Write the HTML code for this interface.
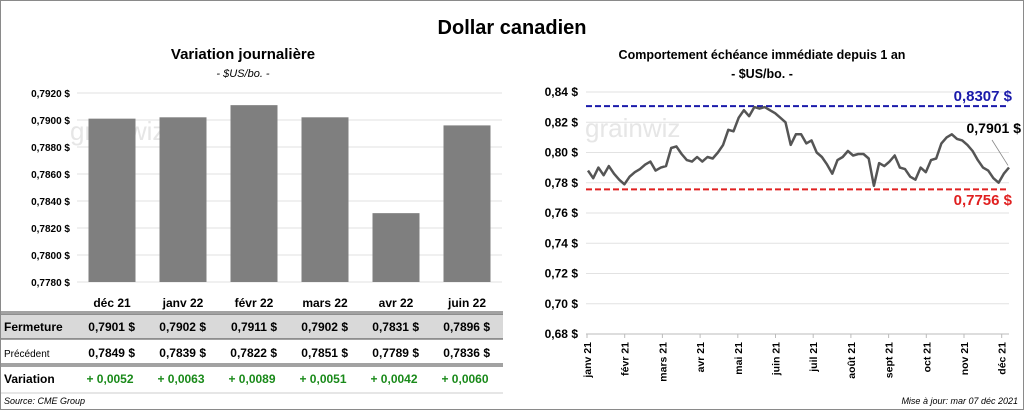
<!DOCTYPE html>
<html><head><meta charset="utf-8"><style>
body{margin:0;background:#fff;font-family:"Liberation Sans",sans-serif;}
#wrap{position:relative;width:1024px;height:410px;overflow:hidden;}
svg text{font-family:"Liberation Sans",sans-serif;}
</style></head><body>
<div id="wrap">
<svg id="s" width="1024" height="410">
<rect x="0.5" y="0.5" width="1023" height="409" fill="none" stroke="#8a8a8a"/>
<text x="512" y="34" text-anchor="middle" font-size="20" font-weight="bold">Dollar canadien</text>
<text x="243" y="59" text-anchor="middle" font-size="15" font-weight="bold">Variation  journalière</text>
<text x="243" y="77" text-anchor="middle" font-size="11" font-style="italic">- $US/bo. -</text>
<text x="762" y="59" text-anchor="middle" font-size="12.5" font-weight="bold">Comportement échéance immédiate depuis 1 an</text>
<text x="762" y="78" text-anchor="middle" font-size="12.5" font-weight="bold">- $US/bo. -</text>
<text x="70" y="140" font-size="26" fill="#e6e6e6">grainwiz</text>
<text x="585" y="137" font-size="26" fill="#e6e6e6">grainwiz</text>
<g id="left"></g><g id="right"></g>
<text x="4" y="404" font-size="9" font-style="italic">Source: CME Group</text>
<text x="1018" y="404" text-anchor="end" font-size="9" font-style="italic">Mise à jour: mar 07 déc 2021</text>
</svg>
</div>
<script>
const NS="http://www.w3.org/2000/svg";
const months=["déc 21","janv 22","févr 22","mars 22","avr 22","juin 22"];
const closes=[0.7901,0.7902,0.7911,0.7902,0.7831,0.7896];
const prevs=[0.7849,0.7839,0.7822,0.7851,0.7789,0.7836];
const leftTicks=[0.7780,0.7800,0.7820,0.7840,0.7860,0.7880,0.7900,0.7920];
const rightTicks=[0.68,0.70,0.72,0.74,0.76,0.78,0.80,0.82,0.84];
const dateLabels=["janv 21","févr 21","mars 21","avr 21","mai 21","juin 21","juil 21","août 21","sept 21","oct 21","nov 21","déc 21"];
const series=[0.788,0.783,0.790,0.785,0.791,0.786,0.782,0.779,0.784,0.787,0.789,0.792,0.794,0.788,0.790,0.791,0.803,0.804,0.799,0.795,0.794,0.797,0.794,0.797,0.796,0.800,0.805,0.815,0.814,0.823,0.828,0.824,0.830,0.829,0.830,0.828,0.826,0.823,0.820,0.805,0.812,0.812,0.806,0.808,0.800,0.797,0.792,0.786,0.795,0.797,0.801,0.798,0.799,0.799,0.796,0.778,0.793,0.791,0.794,0.798,0.790,0.789,0.784,0.782,0.790,0.787,0.795,0.796,0.806,0.810,0.812,0.809,0.808,0.805,0.801,0.795,0.790,0.788,0.783,0.780,0.786,0.7901];
const highVal=0.8307, lowVal=0.7756, lastVal=0.7901;

function el(t,a,p,txt){const e=document.createElementNS(NS,t);for(const k in a)e.setAttribute(k,a[k]);if(txt!==undefined)e.textContent=txt;p.appendChild(e);return e;}
const fmt4=v=>v.toFixed(4).replace('.',',');
const L=document.getElementById('left'), R=document.getElementById('right');
const ly=v=>93+(0.7920-v)/0.0020*27;
const lx=i=>112+i*71;
leftTicks.forEach(t=>{
 const g=el('line',{x1:77,x2:502,y1:ly(t),y2:ly(t),stroke:'#e2e2e2'},L);
 
 const tx=el('text',{x:70,y:ly(t)+4,'text-anchor':'end','font-size':10,'font-weight':'bold'},L,fmt4(t)+' $');
 
});
closes.forEach((v,i)=>{
 const b=el('rect',{x:lx(i)-23.5,y:ly(v),width:47,height:ly(0.7780)-ly(v),fill:'#7f7f7f'},L);
 
 const m=el('text',{x:lx(i),y:307,'text-anchor':'middle','font-size':12,'font-weight':'bold'},L,months[i]);
 
 const c=el('text',{x:lx(i)+23,y:331,'text-anchor':'end','font-size':12,'font-weight':'bold'},L,fmt4(v)+'  $');
 
 const p=el('text',{x:lx(i)+23,y:357,'text-anchor':'end','font-size':12,'font-weight':'bold'},L,fmt4(prevs[i])+'  $');
 
 const d=el('text',{x:lx(i)-2,y:383,'text-anchor':'middle','font-size':12,'font-weight':'bold',fill:'#1a8a1a'},L,'+ '+fmt4(v-prevs[i]));
 
});
const rowbg=el('rect',{x:1,y:314,width:502,height:25,fill:'#d9d9d9'},L);L.insertBefore(rowbg,L.firstChild);

[[312,'#444'],[314,'#444'],[339,'#444'],[364,'#444'],[366,'#444'],[393,'#ccc']].forEach(a=>{
 const l=el('line',{x1:1,x2:503,y1:a[0],y2:a[0],stroke:a[1],'stroke-width':1},L);
 
});
[['Fermeture',331,12,'bold'],['Précédent',357,10,'normal'],['Variation',383,12,'bold']].forEach(r=>{
 const t=el('text',{x:4,y:r[1],'font-size':r[2],'font-weight':r[3]},L,r[0]);
 
});
const ry=v=>92+(0.84-v)/0.02*30.25;
const x0=588,x1=1009;
const rx=i=>x0+i*(x1-x0)/(series.length-1);
rightTicks.forEach(t=>{
 const g=el('line',{x1:586,x2:1009,y1:ry(t),y2:ry(t),stroke:t===0.68?'#bbb':'#e2e2e2'},R);
 
 const tx=el('text',{x:578,y:ry(t)+4,'text-anchor':'end','font-size':12,'font-weight':'bold'},R,t.toFixed(2).replace('.',',')+' $');
 
});
dateLabels.forEach((d,i)=>{
 const x=587+i*37.7;
 const tk=el('line',{x1:x,x2:x,y1:334,y2:338,stroke:'#bbb'},R);
 
 const t=el('text',{x:0,y:0,'text-anchor':'end','font-size':10.5,'font-weight':'bold',transform:`translate(${x+4},342) rotate(-90)`},R,d);
 
});
const hl=el('line',{x1:586,x2:1009,y1:ry(highVal),y2:ry(highVal),stroke:'#1a1aaa','stroke-width':2,'stroke-dasharray':'6,3'},R);

const ll=el('line',{x1:586,x2:1009,y1:ry(lowVal),y2:ry(lowVal),stroke:'#e02020','stroke-width':2,'stroke-dasharray':'6,3'},R);

const pts=series.map((v,i)=>rx(i).toFixed(1)+','+ry(v).toFixed(1)).join(' ');
const pl=el('polyline',{points:pts,fill:'none',stroke:'#555','stroke-width':2.5,'stroke-linejoin':'round'},R);

const hv=el('text',{x:1012,y:101,'text-anchor':'end','font-size':15,'font-weight':'bold',fill:'#1a1aaa'},R,fmt4(highVal)+' $');

const lv=el('text',{x:1012,y:205,'text-anchor':'end','font-size':15,'font-weight':'bold',fill:'#e02020'},R,fmt4(lowVal)+' $');

const lt=el('text',{x:1021,y:133,'text-anchor':'end','font-size':14,'font-weight':'bold'},R,fmt4(lastVal)+' $');

const ld=el('line',{x1:992,y1:140,x2:1008,y2:ry(lastVal)-2,stroke:'#888','stroke-width':0.8},R);

</script>
</body></html>
